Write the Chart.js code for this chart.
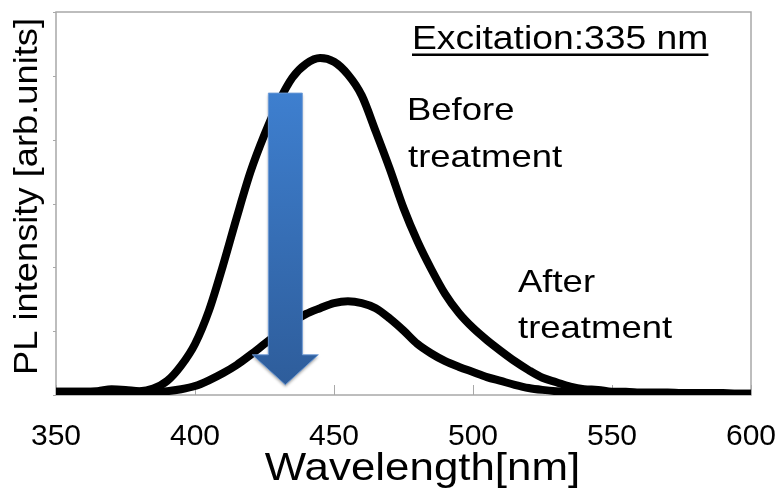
<!DOCTYPE html>
<html>
<head>
<meta charset="utf-8">
<script src="https://cdn.jsdelivr.net/npm/chart.js@4/dist/chart.umd.min.js"></script>
<style>
  html, body { margin: 0; padding: 0; background: #fff; }
  #c { display: block; }
</style>
</head>
<body>
<canvas id="c" width="781" height="489"></canvas>
<script>
// ---- data ----
const wavelengths = [350,355,360,365,370,375,380,385,390,395,400,405,410,415,420,425,430,435,440,445,450,455,460,465,470,475,480,485,490,495,500,505,510,515,520,525,530,535,540,545,550,555,560,565,570,575,580,585,590,595,600];
const beforeTreatment = [0.05,0.05,0.05,0.06,0.09,0.08,0.06,0.10,0.22,0.46,0.80,1.32,2.02,2.78,3.50,4.08,4.58,4.97,5.19,5.28,5.22,5.02,4.69,4.13,3.55,2.93,2.41,1.97,1.58,1.28,1.05,0.86,0.69,0.53,0.39,0.27,0.20,0.13,0.09,0.08,0.05,0.05,0.04,0.04,0.04,0.03,0.03,0.03,0.03,0.02,0.02];
const afterTreatment  = [0.05,0.05,0.05,0.05,0.06,0.06,0.05,0.05,0.06,0.09,0.14,0.23,0.34,0.47,0.63,0.80,0.97,1.14,1.27,1.36,1.44,1.47,1.44,1.36,1.20,1.01,0.80,0.65,0.53,0.44,0.36,0.28,0.22,0.16,0.11,0.08,0.06,0.05,0.05,0.04,0.04,0.04,0.03,0.03,0.03,0.03,0.02,0.02,0.02,0.02,0.02];
const xTickValues = [350,400,450,500,550,600];
const yTickValues = [0,1,2,3,4,5,6];
const arrowStart = { x: 432.5, y: 4.73 };   // arrow tail (nm, arb. units)
const arrowEnd   = { x: 432.5, y: 0.16 };   // arrow tip

const FONT = '"Liberation Sans", Arial, sans-serif';

function stretchedText(ctx, text, x, y, size, sx, align, rotate) {
  ctx.save();
  ctx.translate(x, y);
  if (rotate) ctx.rotate(-Math.PI / 2);
  ctx.scale(sx, 1);
  ctx.font = size + 'px ' + FONT;
  ctx.fillStyle = '#000';
  ctx.textBaseline = 'alphabetic';
  ctx.textAlign = align || 'left';
  ctx.fillText(text, 0, 0);
  const w = ctx.measureText(text).width * sx;
  ctx.restore();
  return w;
}

const framePlugin = {
  id: 'frame',
  beforeDatasetsDraw(chart) {
    const { ctx, chartArea: a, scales } = chart;
    ctx.save();
    ctx.strokeStyle = '#a8a8a8';
    ctx.lineWidth = 1.5;
    ctx.strokeRect(a.left, a.top, a.right - a.left, a.bottom - a.top);
    ctx.lineWidth = 1;
    ctx.beginPath();
    xTickValues.forEach(v => {
      const px = Math.round(scales.x.getPixelForValue(v)) + 0.5;
      ctx.moveTo(px, a.bottom);
      ctx.lineTo(px, a.bottom - 10);
    });
    yTickValues.forEach(v => {
      const py = Math.round(scales.y.getPixelForValue(v)) + 0.5;
      ctx.moveTo(a.left - 3, py);
      ctx.lineTo(a.left, py);
    });
    ctx.stroke();
    ctx.restore();
  },
  afterDatasetsDraw(chart) {
    const { ctx, scales } = chart;
    const cx = scales.x.getPixelForValue(arrowStart.x);
    const top = scales.y.getPixelForValue(arrowStart.y);
    const tip = scales.y.getPixelForValue(arrowEnd.y);
    const shaftHalf = 17, headHalf = 33, headLen = 30;
    const headTop = tip - headLen;
    ctx.save();
    const g = ctx.createLinearGradient(0, top, 0, tip);
    g.addColorStop(0, '#3e7fcf');
    g.addColorStop(1, '#2e5d9b');
    ctx.beginPath();
    ctx.moveTo(cx - shaftHalf, top);
    ctx.lineTo(cx + shaftHalf, top);
    ctx.lineTo(cx + shaftHalf, headTop);
    ctx.lineTo(cx + headHalf, headTop);
    ctx.lineTo(cx, tip);
    ctx.lineTo(cx - headHalf, headTop);
    ctx.lineTo(cx - shaftHalf, headTop);
    ctx.closePath();
    ctx.shadowColor = 'rgba(0,0,0,0.35)';
    ctx.shadowBlur = 3;
    ctx.shadowOffsetY = 2;
    ctx.fillStyle = g;
    ctx.fill();
    ctx.shadowColor = 'transparent';
    ctx.strokeStyle = 'rgba(110,155,215,0.9)';
    ctx.lineWidth = 1;
    ctx.stroke();
    ctx.restore();
  },
  afterDraw(chart) {
    const { ctx } = chart;
    const w = stretchedText(ctx, 'Excitation:335 nm', 412, 49, 33, 1.13, 'left');
    ctx.fillStyle = '#000';
    ctx.fillRect(412, 53.5, w, 2.5);
    stretchedText(ctx, 'Before', 407, 120, 32, 1.14, 'left');
    stretchedText(ctx, 'treatment', 408, 167, 32, 1.14, 'left');
    stretchedText(ctx, 'After', 518, 292, 32, 1.14, 'left');
    stretchedText(ctx, 'treatment', 518, 338, 32, 1.14, 'left');
    stretchedText(ctx, 'Wavelength[nm]', 422.5, 480, 39, 1.125, 'center');
    stretchedText(ctx, 'PL intensity [arb.units]', 37, 196.5, 33, 1.1, 'center', true);
  }
};

const toPoints = vals => wavelengths.map((w, i) => ({ x: w, y: vals[i] }));

new Chart(document.getElementById('c'), {
  type: 'line',
  data: {
    datasets: [
      { label: 'Before treatment', data: toPoints(beforeTreatment), borderColor: '#000', borderWidth: 8, pointRadius: 0, cubicInterpolationMode: 'monotone', fill: false },
      { label: 'After treatment',  data: toPoints(afterTreatment),  borderColor: '#000', borderWidth: 8, pointRadius: 0, cubicInterpolationMode: 'monotone', fill: false }
    ]
  },
  options: {
    responsive: false,
    animation: false,
    devicePixelRatio: 1,
    layout: { padding: { top: 12, right: 30, left: 0, bottom: 0 } },
    plugins: { legend: { display: false }, tooltip: { enabled: false } },
    scales: {
      x: {
        type: 'linear', min: 350, max: 600,
        afterBuildTicks: s => { s.ticks = xTickValues.map(v => ({ value: v })); },
        afterFit: s => { s.height = 94; s.paddingLeft = 0; s.paddingRight = 0; },
        grid: { display: false, drawTicks: false },
        border: { display: false },
        ticks: { color: '#000', font: { size: 30, family: FONT }, padding: 24, maxRotation: 0, autoSkip: false }
      },
      y: {
        type: 'linear', min: 0, max: 6,
        afterBuildTicks: s => { s.ticks = yTickValues.map(v => ({ value: v })); },
        afterFit: s => { s.width = 56; s.paddingTop = 0; s.paddingBottom = 0; },
        grid: { display: false, drawTicks: false },
        border: { display: false },
        ticks: { display: false }
      }
    }
  },
  plugins: [framePlugin]
});
</script>
</body>
</html>
